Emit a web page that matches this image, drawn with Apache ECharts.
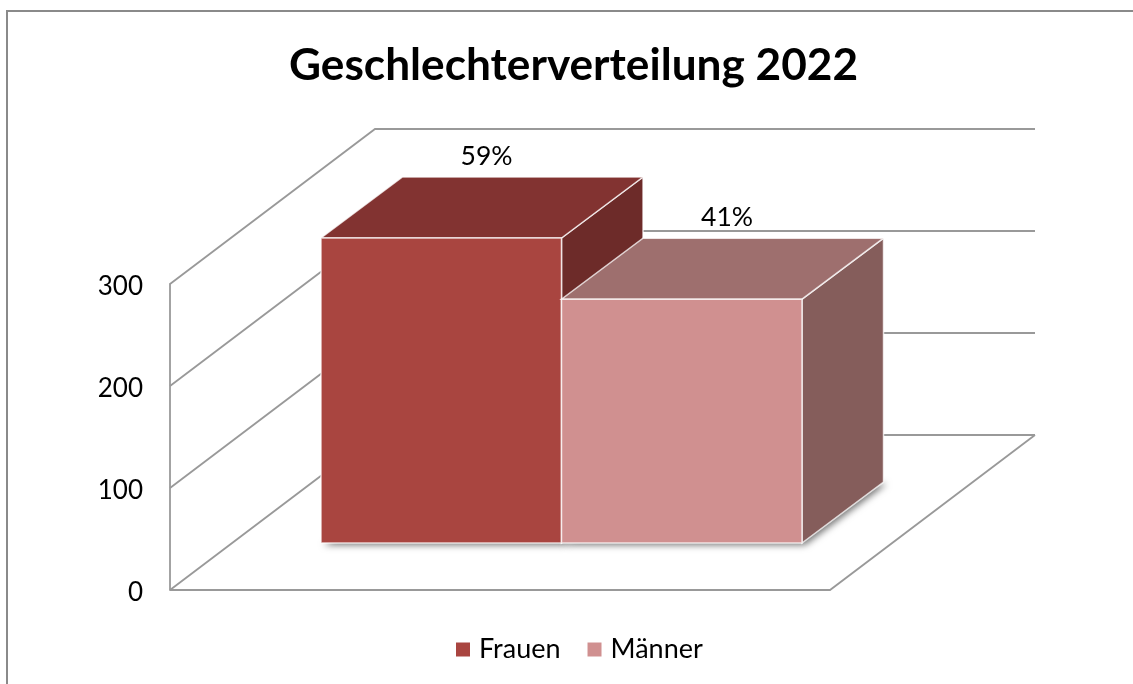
<!DOCTYPE html>
<html>
<head>
<meta charset="utf-8">
<style>
html,body{margin:0;padding:0;background:#fff;}
#chart{width:1133px;height:684px;}
</style>
<script src="https://cdn.jsdelivr.net/npm/echarts@6/dist/echarts.min.js"></script>
</head>
<body>
<div id="chart"></div>
<script>
const categories = ['2022']
const frauen = [299]
const maenner = [239]
const prozentFrauen = ['59%']
const prozentMaenner = ['41%']
const yTicks = [0, 100, 200, 300]

// Tiefe der 3D-Darstellung
const wandDx = 205, wandDy = -155
const baseDx = 61.5, baseDy = -47
const tiefeDx = 81.5, tiefeDy = -61
const barShare = 0.3644
const lineColor = '#999'
const edge = 'rgba(255,255,255,0.75)'

function poly(points, fill){
    return {
        type: 'polygon',
        shape: { points },
        style: { fill, stroke: edge, lineWidth: 1.5 }
    }
}

function barItem(slot, colors, labels){
    return function(params, api){
        const base = api.coord([api.value(0), 0])
        const top = api.coord([api.value(0), api.value(1)])
        const w = api.size([1, 0])[0] * barShare
        const l = base[0] + (slot - 1) * w + baseDx
        const r = l + w
        const yTop = top[1] + baseDy
        const yBot = base[1] + baseDy
        const foot = [[l, yBot], [r, yBot], [r + tiefeDx, yBot + tiefeDy], [l + tiefeDx, yBot + tiefeDy]]
        return {
            type: 'group',
            children: [
                {
                    type: 'polygon',
                    shape: { points: foot },
                    style: { fill: '#777', shadowBlur: 7, shadowColor: 'rgba(0,0,0,0.55)', shadowOffsetX: 3, shadowOffsetY: 2 }
                },
                poly([[r, yTop], [r + tiefeDx, yTop + tiefeDy], [r + tiefeDx, yBot + tiefeDy], [r, yBot]], colors[2]),
                poly([[l, yTop], [r, yTop], [r + tiefeDx, yTop + tiefeDy], [l + tiefeDx, yTop + tiefeDy]], colors[1]),
                poly([[l, yTop], [r, yTop], [r, yBot], [l, yBot]], colors[0]),
                {
                    type: 'text',
                    style: {
                        text: labels[params.dataIndex],
                        x: (l + r) / 2 + tiefeDx / 2 + 4.5,
                        y: yTop + tiefeDy - 21,
                        align: 'center',
                        verticalAlign: 'middle',
                        fill: '#000',
                        font: '26.5px Lato'
                    }
                }
            ]
        }
    }
}

function wallItem(params, api){
    const p = api.coord([0, api.value(0)])
    const size = api.size([1, 0])[0]
    const left = p[0] - size / 2
    const right = p[0] + size / 2
    return {
        type: 'polyline',
        shape: { points: [[left, p[1]], [left + wandDx, p[1] + wandDy], [right + wandDx, p[1] + wandDy]] },
        style: { fill: 'none', stroke: lineColor, lineWidth: 1.8 }
    }
}

function floorItem(params, api){
    const p = api.coord([0, 0])
    const size = api.size([1, 0])[0]
    const right = p[0] + size / 2
    return {
        type: 'polyline',
        shape: { points: [[p[0] - size / 2, p[1]], [right, p[1]], [right + wandDx, p[1] + wandDy]] },
        style: { fill: 'none', stroke: lineColor, lineWidth: 1.8 }
    }
}

const chart = echarts.init(document.getElementById('chart'), null, { renderer: 'canvas' })
const option = {
    animation: false,
    backgroundColor: '#fff',
    textStyle: { fontFamily: 'Lato' },
    graphic: [{
        type: 'rect',
        shape: { x: 7, y: 11, width: 1200, height: 700 },
        style: { fill: 'none', stroke: '#8a8a8a', lineWidth: 2 },
        silent: true
    }],
    title: {
        text: 'Geschlechterverteilung 2022',
        left: 284,
        top: 39,
        textStyle: { fontFamily: 'Lato', fontWeight: 'bold', fontSize: 44.2, color: '#000' }
    },
    legend: {
        left: 451,
        top: 631,
        itemWidth: 14,
        itemHeight: 14,
        itemGap: 27,
        textStyle: { fontFamily: 'Lato', fontSize: 27, color: '#000', padding: [0, 0, 0, 4] },
        data: [{ name: 'Frauen', icon: 'rect' }, { name: 'Männer', icon: 'rect' }]
    },
    grid: { left: 170, right: 303, top: 284, bottom: 94 },
    xAxis: {
        type: 'category',
        data: categories,
        axisLine: { show: false },
        axisTick: { show: false },
        axisLabel: { show: false }
    },
    yAxis: {
        type: 'value',
        min: 0,
        max: 300,
        interval: 100,
        axisLine: { show: true, lineStyle: { color: lineColor, width: 1.8 } },
        axisTick: { show: false },
        splitLine: { show: false },
        axisLabel: {
            margin: 27,
            color: '#000',
            formatter: v => yTicks.includes(v) ? '{t|' + v + '}' : '',
            rich: { t: { fontFamily: 'Lato', fontSize: 26, color: '#000', padding: [6, 0, 0, 0] } }
        }
    },
    series: [
        { type: 'custom', name: 'Boden', silent: true, z: 1, renderItem: floorItem, data: [[0]], encode: { y: 0 } },
        { type: 'custom', name: 'Wand', silent: true, z: 1, renderItem: wallItem, data: yTicks.map(v => [v]), encode: { y: 0 } },
        {
            type: 'custom', name: 'Frauen', z: 2,
            itemStyle: { color: '#A94540' },
            renderItem: barItem(0, ['#A94540', '#823331', '#6D2B29'], prozentFrauen),
            data: frauen.map((v, i) => [i, v]),
            encode: { x: 0, y: 1 }
        },
        {
            type: 'custom', name: 'Männer', z: 3,
            itemStyle: { color: '#D09090' },
            renderItem: barItem(1, ['#D09090', '#9E6F6E', '#855D5B'], prozentMaenner),
            data: maenner.map((v, i) => [i, v]),
            encode: { x: 0, y: 1 }
        }
    ]
}
chart.setOption(option)
</script>
</body>
</html>
